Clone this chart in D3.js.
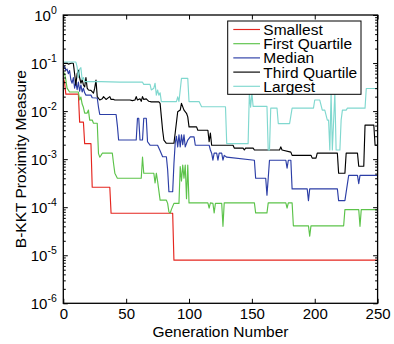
<!DOCTYPE html>
<html><head><meta charset="utf-8">
<script src="https://cdn.jsdelivr.net/npm/d3@7"></script>
<style>
body{margin:0;background:#fff}
svg{display:block}
text{font-family:"Liberation Sans",Arial,Helvetica,sans-serif;fill:#000}
</style>
</head><body>
<svg id="chart" width="394" height="344"></svg>
<script>
// ---- data (generation, value) ----
const smallest = [[0,0.049],[1,0.04],[2,0.0225],[12,0.0225],[13,0.0059],[16,0.0059],[17,0.0021],[22,0.0021],[23,2.6e-4],[37,2.6e-4],[38,7.5e-5],[87,7.5e-5],[88,7.9e-6],[250,7.9e-6]];

const firstQuartile = [[0,0.066],[1,0.06],[2,0.045],[3,0.03],[5,0.025],[12,0.025],[13,0.017],[14,0.0196],[15,0.014],[16,0.012],[17,0.0091],[19,0.0091],[20,0.0105],[21,0.0065],[23,0.0065],[24,0.0056],[27,0.0056],[28,0.0013],[29,0.0011],[30,0.0012],[31,0.00133],[39,0.00133],[40,0.0008],[41,5.1e-4],[43,4.0e-4],[62,4.0e-4],[63,0.0011],[64,5.1e-4],[72,5.1e-4],[73,3.2e-4],[74,5.1e-4],[75,3.5e-4],[77,1.4e-4],[82,1.4e-4],[83,1.2e-4],[84,8e-5],[85,7.5e-5],[86,9e-5],[88,1.2e-4],[92,1.2e-4],[93,7e-4],[94,3.5e-4],[95,7.5e-4],[96,4e-4],[97,7.5e-4],[98,1.5e-4],[99,7.5e-4],[100,1.23e-4],[115,1.23e-4],[116,9.6e-5],[117,1.23e-4],[119,1.2e-4],[120,7.6e-5],[121,1.2e-4],[126,1.2e-4],[127,4.0e-5],[128,1.23e-4],[152,1.23e-4],[153,7.6e-5],[162,7.6e-5],[163,1.23e-4],[177,1.23e-4],[178,9.6e-5],[179,1.23e-4],[182,1.23e-4],[183,4.1e-5],[195,4.1e-5],[196,2.5e-5],[197,4.1e-5],[223,4.1e-5],[224,8.9e-5],[235,8.9e-5],[236,4.0e-5],[237,8.9e-5],[250,8.9e-5]];

const median = [[0,0.08],[1,0.085],[2,0.07],[3,0.075],[4,0.06],[5,0.07],[6,0.045],[7,0.038],[8,0.05],[9,0.03],[10,0.04],[11,0.028],[12,0.04],[13,0.026],[14,0.035],[15,0.025],[16,0.03],[17,0.024],[18,0.0215],[22,0.0215],[23,0.019],[27,0.0187],[28,0.012],[29,0.0085],[42,0.0085],[43,0.005],[44,0.0025],[58,0.0025],[59,0.0071],[60,0.0071],[61,0.0025],[63,0.0025],[64,0.0071],[66,0.0071],[67,0.0023],[69,0.00195],[75,0.00195],[77,0.0015],[79,0.00112],[82,0.00112],[83,6e-4],[84,2.1e-4],[87,2.1e-4],[88,8e-4],[89,0.00215],[90,0.003],[91,0.0018],[92,0.0032],[93,0.0018],[94,0.0032],[95,0.002],[96,0.0032],[97,0.0018],[99,0.0025],[101,0.0029],[104,0.0029],[105,0.00195],[116,0.00195],[117,0.00155],[118,0.00133],[119,9.5e-4],[120,0.00133],[122,0.00133],[123,9.5e-4],[124,0.00133],[126,0.00133],[127,9.5e-4],[128,0.0012],[130,0.0011],[152,9.5e-4],[153,4.0e-4],[161,4.0e-4],[162,1.78e-4],[163,4.0e-4],[164,9.5e-4],[177,9.5e-4],[178,6.5e-4],[179,9.5e-4],[181,9.5e-4],[182,2.4e-4],[194,2.4e-4],[195,1.37e-4],[196,2.4e-4],[218,2.4e-4],[219,1.37e-4],[224,1.37e-4],[227,4.6e-4],[234,4.6e-4],[235,3.1e-4],[236,4.6e-4],[250,4.6e-4]];

const thirdQuartile = [[0,0.1],[3,0.1],[4,0.095],[7,0.1],[8,0.098],[9,0.06],[10,0.035],[11,0.06],[12,0.071],[13,0.05],[14,0.038],[15,0.045],[16,0.035],[17,0.032],[18,0.05],[19,0.03],[20,0.0275],[22,0.027],[24,0.0237],[25,0.03],[26,0.044],[27,0.02],[29,0.017],[31,0.018],[32,0.02],[34,0.0175],[37,0.02],[38,0.0175],[40,0.0175],[41,0.017],[53,0.017],[55,0.0165],[57,0.017],[58,0.02],[59,0.017],[61,0.018],[62,0.016],[63,0.02],[64,0.0175],[66,0.018],[68,0.016],[70,0.0156],[76,0.0156],[77,0.0145],[78,0.0076],[79,0.004],[80,0.0025],[82,0.00214],[88,0.00214],[89,0.0035],[91,0.0097],[93,0.0105],[94,0.0145],[96,0.0105],[98,0.009],[99,0.0076],[100,0.0047],[106,0.0047],[107,0.004],[115,0.004],[116,0.0023],[117,0.0035],[118,0.00195],[135,0.00195],[136,0.0017],[143,0.0017],[144,0.00155],[145,0.0017],[151,0.0017],[152,0.00155],[172,0.00155],[173,0.0018],[174,0.00155],[181,0.0014],[182,0.0012],[197,0.0012],[198,0.00105],[201,0.00105],[202,0.00133],[218,0.00133],[219,5.1e-4],[224,5.1e-4],[225,0.00133],[234,0.00133],[235,7.1e-4],[239,7.1e-4],[240,0.0051],[247,0.0051],[248,0.00195],[250,0.00195]];

const largest = [[0,0.105],[10,0.105],[11,0.083],[12,0.05],[13,0.075],[14,0.08],[15,0.045],[16,0.05],[17,0.041],[30,0.041],[45,0.04],[63,0.04],[64,0.036],[69,0.036],[70,0.0275],[72,0.03],[73,0.038],[74,0.0215],[75,0.0275],[76,0.0215],[77,0.024],[78,0.0158],[90,0.0158],[91,0.0198],[92,0.0158],[94,0.048],[99,0.048],[100,0.0158],[108,0.0158],[110,0.0123],[129,0.0123],[130,0.0021],[147,0.0021],[148,0.024],[149,0.012],[150,0.024],[151,0.0125],[162,0.0125],[163,0.00155],[164,0.00155],[165,0.0115],[170,0.0115],[171,0.0055],[180,0.0055],[182,0.0115],[199,0.0115],[200,0.017],[204,0.017],[206,0.0105],[208,0.0105],[210,0.0065],[211,0.0065],[212,0.00155],[213,0.0237],[214,0.00155],[216,0.0237],[217,0.00155],[220,0.00155],[221,0.0065],[222,0.0105],[225,0.0105],[226,0.0115],[240,0.0115],[241,0.0296],[250,0.0296]];

const seriesNames = ["Smallest","First Quartile","Median","Third Quartile","Largest"];
const seriesData = [smallest, firstQuartile, median, thirdQuartile, largest];
const seriesColors = ["#e5261f","#5cc34a","#2c3ea6","#000000","#80d8cf"];
const xTicks = [0,50,100,150,200,250];
const yTickExponents = [0,-1,-2,-3,-4,-5,-6];
const xLabel = "Generation Number";
const yLabel = "B-KKT Proximity Measure";

// ---- layout ----
const W = 394, H = 344;
const m = {left:63.3, right:16.4, top:15, bottom:40.7};
const svg = d3.select("#chart");
const x = d3.scaleLinear().domain([0,250]).range([m.left, W - m.right]);
const y = d3.scaleLog().domain([1e-6, 1]).range([H - m.bottom, m.top]);

// minor ticks for log axis
const minorTicks = [];
yTickExponents.forEach(e => { if (e < 0) for (let k = 2; k <= 9; k++) minorTicks.push(k * Math.pow(10, e)); });
const majorTicks = yTickExponents.map(e => Math.pow(10, e));

// data lines
const line = d3.line().x(d => x(d[0])).y(d => y(d[1]));
const plot = svg.append("g");
seriesData.forEach((s, i) => {
  plot.append("path").datum(s).attr("d", line)
    .attr("fill","none").attr("stroke", seriesColors[i])
    .attr("stroke-width", 1.15).attr("stroke-linejoin","round");
});

function styleAxis(g){
  g.select(".domain").remove();
  g.selectAll(".tick line").attr("stroke","#000").attr("stroke-width",1);
}
const TL = 4.5, TM = 2.5;
// bottom
svg.append("g").attr("transform",`translate(0,${H-m.bottom})`)
  .call(d3.axisBottom(x).tickValues(xTicks).tickSizeInner(-TL).tickSizeOuter(0).tickPadding(4.6))
  .call(styleAxis)
  .call(g => g.selectAll("text").attr("font-size",15).attr("font-family",null));
// top
svg.append("g").attr("transform",`translate(0,${m.top})`)
  .call(d3.axisTop(x).tickValues(xTicks).tickSizeInner(-TL).tickSizeOuter(0).tickFormat(""))
  .call(styleAxis);
// left major/minor
svg.append("g").attr("transform",`translate(${m.left},0)`)
  .call(d3.axisLeft(y).tickValues(majorTicks).tickSizeInner(-TL).tickSizeOuter(0).tickFormat(""))
  .call(styleAxis);
svg.append("g").attr("transform",`translate(${m.left},0)`)
  .call(d3.axisLeft(y).tickValues(minorTicks).tickSizeInner(-TM).tickSizeOuter(0).tickFormat(""))
  .call(styleAxis);
// right major/minor
svg.append("g").attr("transform",`translate(${W-m.right},0)`)
  .call(d3.axisRight(y).tickValues(majorTicks).tickSizeInner(-TL).tickSizeOuter(0).tickFormat(""))
  .call(styleAxis);
svg.append("g").attr("transform",`translate(${W-m.right},0)`)
  .call(d3.axisRight(y).tickValues(minorTicks).tickSizeInner(-TM).tickSizeOuter(0).tickFormat(""))
  .call(styleAxis);

// y tick labels 10^e
yTickExponents.forEach(e => {
  const t = svg.append("text").attr("x", m.left - 6.5).attr("y", y(Math.pow(10,e)) + 5.5)
    .attr("text-anchor","end").attr("font-size",15);
  t.append("tspan").text("10");
  t.append("tspan").attr("dy",-6.5).attr("font-size",10.5).text(e === 0 ? "0" : "-" + (-e));
});

// box
svg.append("rect").attr("x",m.left).attr("y",m.top)
  .attr("width",W-m.left-m.right).attr("height",H-m.top-m.bottom)
  .attr("fill","none").attr("stroke","#000").attr("stroke-width",1.3);

// axis labels
svg.append("text").attr("x",(m.left + W - m.right)/2).attr("y",336.5)
  .attr("text-anchor","middle").attr("font-size",15.5).text(xLabel);
svg.append("text").attr("transform",`translate(25.5,${(m.top + H - m.bottom)/2}) rotate(-90)`)
  .attr("text-anchor","middle").attr("font-size",15.5).text(yLabel);

// legend
const lg = svg.append("g");
lg.append("rect").attr("x",227.7).attr("y",21).attr("width",133.3).attr("height",73.3)
  .attr("fill","#fff").attr("stroke","#000").attr("stroke-width",1);
seriesNames.forEach((n, i) => {
  const cy = 29.5 + i * 14.2;
  lg.append("line").attr("x1",233.3).attr("x2",260).attr("y1",cy).attr("y2",cy)
    .attr("stroke",seriesColors[i]).attr("stroke-width",1.15);
  lg.append("text").attr("x",263.3).attr("y",cy + 5.4).attr("font-size",15.5).text(n);
});
</script>
</body></html>
